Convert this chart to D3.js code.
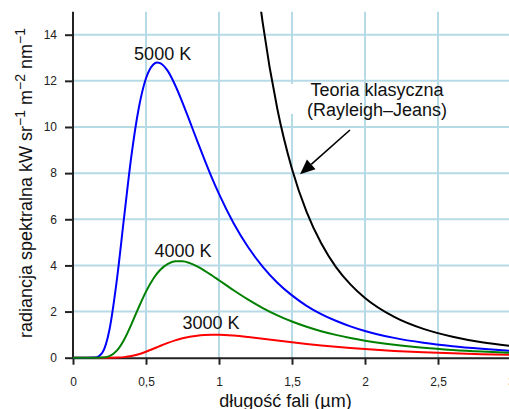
<!DOCTYPE html>
<html>
<head>
<meta charset="utf-8">
<script src="https://cdn.jsdelivr.net/npm/d3@7"></script>
<style>
  html, body { margin: 0; padding: 0; background: #fff; }
  svg { display: block; font-family: "Liberation Sans", Arial, sans-serif; }
</style>
</head>
<body>
<svg id="chart" width="509" height="409"></svg>
<script>
// wavelength in µm
const wavelengths = [0, 0.05, 0.1, 0.15, 0.2, 0.25, 0.3, 0.35, 0.4, 0.45, 0.5, 0.55, 0.575, 0.6, 0.65, 0.7, 0.75, 0.8, 0.85, 0.9, 0.95, 1.0, 1.1, 1.2, 1.3, 1.4, 1.5, 1.6, 1.7, 1.8, 1.9, 2.0, 2.2, 2.4, 2.6, 2.8, 3.0];
// spectral radiance, kW sr^-1 m^-2 nm^-1
const radiance5000 = [0, 0, 0, 0.007, 0.21, 1.22, 3.35, 6.09, 8.75, 10.80, 12.11, 12.71, 12.80, 12.76, 12.42, 11.81, 11.06, 10.24, 9.41, 8.60, 7.82, 7.10, 5.83, 4.79, 3.94, 3.25, 2.70, 2.25, 1.89, 1.60, 1.36, 1.16, 0.86, 0.65, 0.50, 0.39, 0.30];
const radiance4000 = [0, 0, 0, 0.0001, 0.006, 0.069, 0.304, 0.781, 1.447, 2.182, 2.865, 3.422, 3.643, 3.825, 4.070, 4.181, 4.183, 4.10, 3.955, 3.776, 3.572, 3.356, 2.922, 2.514, 2.152, 1.837, 1.568, 1.341, 1.149, 0.989, 0.853, 0.738, 0.560, 0.430, 0.335, 0.265, 0.212];
const radiance3000 = [0, 0, 0, 0, 0, 0.0006, 0.0056, 0.025, 0.072, 0.152, 0.260, 0.386, 0.452, 0.518, 0.642, 0.751, 0.840, 0.908, 0.955, 0.983, 0.995, 0.993, 0.957, 0.896, 0.823, 0.744, 0.668, 0.597, 0.531, 0.472, 0.419, 0.372, 0.295, 0.235, 0.188, 0.152, 0.124];
// classical theory (Rayleigh–Jeans, 5000 K)
const wavelengthsRJ = [1.2, 1.25, 1.3, 1.4, 1.5, 1.6, 1.7, 1.8, 1.9, 2.0, 2.2, 2.4, 2.6, 2.8, 3.0];
const radianceRJ = [19.96, 16.95, 14.49, 10.77, 8.18, 6.32, 4.96, 3.94, 3.18, 2.59, 1.77, 1.25, 0.91, 0.67, 0.51];

const xTicks = [0, 0.5, 1, 1.5, 2, 2.5, 3];
const yTicks = [0, 2, 4, 6, 8, 10, 12, 14];
const seriesLabels = ["5000 K", "4000 K", "3000 K"];
const classicalLabel = ["Teoria klasyczna", "(Rayleigh\u2013Jeans)"];
const xTitle = "długość fali (µm)";

const svg = d3.select("#chart");
const x = d3.scaleLinear().domain([0, 3]).range([73, 511]);
const y = d3.scaleLinear().domain([0, 14]).range([357.7, 34.7]);
const yTop = y(15);

// grid
const grid = svg.append("g").attr("stroke", "#b7dbe6").attr("stroke-width", 2);
yTicks.filter(d => d > 0).forEach(d => {
  grid.append("line").attr("x1", x(0)).attr("x2", x(3)).attr("y1", y(d)).attr("y2", y(d));
});
xTicks.filter(d => d > 0).forEach(d => {
  grid.append("line").attr("x1", x(d)).attr("x2", x(d)).attr("y1", y(0)).attr("y2", yTop);
});

// small white patch behind annotation start
svg.append("rect").attr("x", 289).attr("y", 84).attr("width", 7).attr("height", 30).attr("fill", "#fff");

const fmt = d => String(d).replace(".", ",");

// axes
const xAxis = svg.append("g").attr("transform", `translate(0,${y(0)})`)
  .call(d3.axisBottom(x).tickValues(xTicks).tickFormat(fmt).tickSize(7).tickPadding(13).tickSizeOuter(0));
const yAxis = svg.append("g").attr("transform", `translate(${x(0)},0)`)
  .call(d3.axisLeft(y).tickValues(yTicks).tickSize(8).tickPadding(8).tickSizeOuter(0));
yAxis.select(".domain").attr("d", `M0,${yTop}V${y(0)}`);
[xAxis, yAxis].forEach(a => {
  a.selectAll(".domain, .tick line").attr("stroke", "#222").attr("stroke-width", 2);
  a.selectAll("text").attr("fill", "#222").style("font-size", "12px").style("font-family", '"Liberation Sans", Arial, sans-serif');
});

// clip
svg.append("clipPath").attr("id", "plotclip").append("rect")
  .attr("x", x(0) - 2).attr("y", yTop).attr("width", 460).attr("height", y(0) - yTop + 4);

const line = d3.line().x(d => x(d[0])).y(d => y(d[1])).curve(d3.curveMonotoneX);
const curves = svg.append("g").attr("clip-path", "url(#plotclip)").attr("fill", "none").attr("stroke-width", 2);
curves.append("path").attr("stroke", "#000").attr("d", line(d3.zip(wavelengthsRJ, radianceRJ)));
curves.append("path").attr("stroke", "#ff0000").attr("d", line(d3.zip(wavelengths, radiance3000)));
curves.append("path").attr("stroke", "#0000ff").attr("d", line(d3.zip(wavelengths, radiance5000)));
curves.append("path").attr("stroke", "#008000").attr("d", line(d3.zip(wavelengths, radiance4000)));

// labels
const labelPos = [[0.614, 12.9], [0.753, 4.38], [0.945, 1.23]];
seriesLabels.forEach((t, i) => {
  svg.append("text").attr("x", x(labelPos[i][0])).attr("y", y(labelPos[i][1]))
    .attr("text-anchor", "middle").attr("fill", "#111").style("font-size", "18px").text(t);
});
const clPos = [[2.082, 11.34], [2.082, 10.48]];
classicalLabel.forEach((t, i) => {
  svg.append("text").attr("x", x(clPos[i][0])).attr("y", y(clPos[i][1]))
    .attr("text-anchor", "middle").attr("fill", "#111").style("font-size", "18px").text(t);
});

// arrow
const tail = [1.897, 9.87], tip = [1.555, 7.95];
const x1 = x(tail[0]), y1 = y(tail[1]), x2 = x(tip[0]), y2 = y(tip[1]);
const ang = Math.atan2(y2 - y1, x2 - x1);
const headLen = 15, headW = 6.5;
const bx = x2 - headLen * Math.cos(ang), by = y2 - headLen * Math.sin(ang);
svg.append("line").attr("x1", x1).attr("y1", y1).attr("x2", bx).attr("y2", by)
  .attr("stroke", "#000").attr("stroke-width", 1.6);
svg.append("path").attr("fill", "#000")
  .attr("d", `M${x2},${y2}L${bx + headW * Math.sin(ang)},${by - headW * Math.cos(ang)}L${bx - headW * Math.sin(ang)},${by + headW * Math.cos(ang)}Z`);

// axis titles
svg.append("text").attr("x", 285.5).attr("y", 407).attr("text-anchor", "middle")
  .attr("fill", "#111").style("font-size", "18px").text(xTitle);

const yt = svg.append("text").attr("transform", "translate(31.5,183) rotate(-90)")
  .attr("text-anchor", "middle").attr("fill", "#111").style("font-size", "18px");
yt.append("tspan").text("radiancja spektralna kW sr");
yt.append("tspan").attr("dy", -7).style("font-size", "14px").text("\u22121");
yt.append("tspan").attr("dy", 7).text(" m");
yt.append("tspan").attr("dy", -7).style("font-size", "14px").text("\u22122");
yt.append("tspan").attr("dy", 7).text(" nm");
yt.append("tspan").attr("dy", -7).style("font-size", "14px").text("\u22121");
</script>
</body>
</html>
